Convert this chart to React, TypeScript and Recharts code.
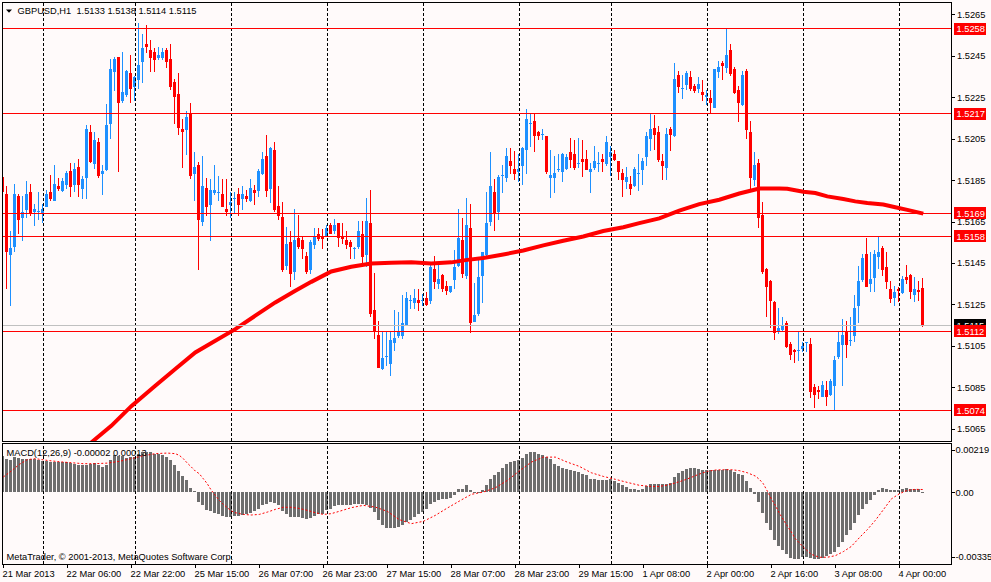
import React from 'react';
import { ComposedChart, Bar, Line, XAxis, YAxis, ReferenceLine } from 'recharts';

const FONT = '"Liberation Sans", Arial, sans-serif';
const FS = 9.3;
const BULL = '#1e90ff';
const BEAR = '#ff0000';
const BG = '#fffafa';
const HIST = '#6e6e6e';
const PT = 0.00001;

// GBPUSD H1 candles, bar 0 = 21 Mar 2013 14:00
const opens = [
  1.51864, 1.51782, 1.51490, 1.51528, 1.51772, 1.51666, 1.51706, 1.51791, 1.51697, 1.51697,
  1.51689, 1.51721, 1.51791, 1.51750, 1.51820, 1.51798, 1.51827, 1.51893, 1.51825, 1.51912,
  1.51806, 1.51859, 1.52081, 1.51926, 1.52032, 1.51878, 1.51899, 1.52121, 1.52371, 1.52442,
  1.52232, 1.52259, 1.52365, 1.52299, 1.52333, 1.52419, 1.52506, 1.52476, 1.52466, 1.52439,
  1.52439, 1.52476, 1.52432, 1.52321, 1.52264, 1.52095, 1.52092, 1.52166, 1.51880, 1.51922,
  1.51649, 1.51811, 1.51730, 1.51788, 1.51788, 1.51782, 1.51710, 1.51730, 1.51758, 1.51782,
  1.51758, 1.51772, 1.51750, 1.51801, 1.51798, 1.51878, 1.51965, 1.51806, 1.51994, 1.51724,
  1.51671, 1.51437, 1.51551, 1.51408, 1.51570, 1.51560, 1.51483, 1.51417, 1.51538, 1.51592,
  1.51573, 1.51578, 1.51632, 1.51602, 1.51642, 1.51578, 1.51560, 1.51551, 1.51518, 1.51525,
  1.51592, 1.51488, 1.51642, 1.51223, 1.51103, 1.50937, 1.50998, 1.50964, 1.51064, 1.51099,
  1.51099, 1.51147, 1.51266, 1.51257, 1.51271, 1.51266, 1.51279, 1.51268, 1.51420, 1.51348,
  1.51392, 1.51339, 1.51308, 1.51369, 1.51437, 1.51562, 1.51388, 1.51621, 1.51167, 1.51205,
  1.51388, 1.51490, 1.51649, 1.51791, 1.51697, 1.51872, 1.51859, 1.51941, 1.51902, 1.51889,
  1.51918, 1.51995, 1.52121, 1.52134, 1.52081, 1.52068, 1.52060, 1.51861, 1.51861, 1.51901,
  1.51889, 1.51902, 1.51984, 1.51975, 1.51928, 1.51952, 1.51952, 1.51889, 1.51909, 1.51930,
  1.51952, 1.51928, 1.51962, 1.51975, 1.51941, 1.51883, 1.51840, 1.51830, 1.51819, 1.51880,
  1.51899, 1.51962, 1.52047, 1.52103, 1.52081, 1.51941, 1.51909, 1.52095, 1.52060, 1.52355,
  1.52289, 1.52307, 1.52346, 1.52304, 1.52288, 1.52273, 1.52252, 1.52246, 1.52198, 1.52370,
  1.52415, 1.52391, 1.52476, 1.52384, 1.52283, 1.52211, 1.52374, 1.52081, 1.51851, 1.51931,
  1.51679, 1.51420, 1.51363, 1.51262, 1.51115, 1.51128, 1.51160, 1.51059, 1.51030, 1.51027,
  1.51035, 1.51066, 1.51059, 1.50852, 1.50838, 1.50805, 1.50838, 1.50813, 1.50858, 1.50998,
  1.51054, 1.51120, 1.51077, 1.51099, 1.51241, 1.51369, 1.51493, 1.51348, 1.51380, 1.51480,
  1.51522, 1.51429, 1.51327, 1.51279, 1.51327, 1.51305, 1.51384, 1.51392, 1.51295, 1.51319,
  1.51330,
];

const highs = [
  1.51975, 1.51822, 1.51604, 1.51830, 1.51782, 1.51774, 1.51843, 1.51830, 1.51734, 1.51791,
  1.51732, 1.51801, 1.51873, 1.51923, 1.51862, 1.51862, 1.51894, 1.51931, 1.51931, 1.51950,
  1.51870, 1.52114, 1.52114, 1.52081, 1.52052, 1.51923, 1.52215, 1.52435, 1.52444, 1.52445,
  1.52466, 1.52378, 1.52452, 1.52352, 1.52606, 1.52553, 1.52596, 1.52524, 1.52487, 1.52493,
  1.52485, 1.52485, 1.52505, 1.52336, 1.52365, 1.52143, 1.52182, 1.52223, 1.51984, 1.51939,
  1.51965, 1.51862, 1.51854, 1.51923, 1.51870, 1.51854, 1.51854, 1.51790, 1.51793, 1.51811,
  1.51820, 1.51801, 1.51854, 1.51824, 1.51902, 1.51984, 1.52069, 1.52007, 1.52032, 1.51820,
  1.51743, 1.51623, 1.51604, 1.51710, 1.51681, 1.51581, 1.51501, 1.51560, 1.51621, 1.51621,
  1.51613, 1.51632, 1.51642, 1.51661, 1.51645, 1.51642, 1.51602, 1.51562, 1.51528, 1.51653,
  1.51653, 1.51763, 1.51801, 1.51401, 1.51172, 1.51115, 1.51123, 1.51123, 1.51223, 1.51212,
  1.51295, 1.51311, 1.51295, 1.51324, 1.51324, 1.51300, 1.51308, 1.51445, 1.51482, 1.51445,
  1.51395, 1.51364, 1.51340, 1.51514, 1.51710, 1.51669, 1.51763, 1.51734, 1.51353, 1.51469,
  1.51504, 1.51793, 1.51984, 1.51854, 1.51873, 1.51922, 1.52003, 1.52003, 1.51992, 1.51975,
  1.52007, 1.52191, 1.52172, 1.52172, 1.52087, 1.52095, 1.52063, 1.51994, 1.51965, 1.51975,
  1.51978, 1.51975, 1.52052, 1.52044, 1.52052, 1.52044, 1.51994, 1.51931, 1.52015, 1.51984,
  1.51975, 1.52063, 1.52015, 1.51994, 1.51944, 1.51902, 1.51912, 1.51870, 1.51912, 1.51975,
  1.51954, 1.52081, 1.52172, 1.52164, 1.52111, 1.51975, 1.52103, 1.52106, 1.52413, 1.52374,
  1.52355, 1.52374, 1.52374, 1.52312, 1.52346, 1.52333, 1.52283, 1.52285, 1.52387, 1.52423,
  1.52424, 1.52585, 1.52505, 1.52395, 1.52304, 1.52376, 1.52384, 1.52134, 1.51984, 1.51950,
  1.51745, 1.51424, 1.51366, 1.51265, 1.51231, 1.51191, 1.51172, 1.51070, 1.51035, 1.51115,
  1.51070, 1.51070, 1.51088, 1.50866, 1.50858, 1.50882, 1.50882, 1.50891, 1.51003, 1.51115,
  1.51180, 1.51172, 1.51191, 1.51298, 1.51437, 1.51493, 1.51571, 1.51504, 1.51512, 1.51578,
  1.51533, 1.51504, 1.51364, 1.51340, 1.51332, 1.51388, 1.51440, 1.51395, 1.51384, 1.51364,
  1.51380,
];

const lows = [
  1.51777, 1.51327, 1.51241, 1.51501, 1.51589, 1.51557, 1.51669, 1.51677, 1.51629, 1.51658,
  1.51641, 1.51718, 1.51750, 1.51747, 1.51798, 1.51790, 1.51806, 1.51769, 1.51790, 1.51769,
  1.51758, 1.51758, 1.51934, 1.51902, 1.51861, 1.51779, 1.51894, 1.52047, 1.52280, 1.51889,
  1.52222, 1.52248, 1.52222, 1.52232, 1.52288, 1.52317, 1.52464, 1.52371, 1.52371, 1.52429,
  1.52429, 1.52389, 1.52283, 1.52122, 1.52069, 1.51909, 1.51971, 1.51854, 1.51750, 1.51417,
  1.51629, 1.51677, 1.51557, 1.51777, 1.51750, 1.51718, 1.51677, 1.51666, 1.51689, 1.51677,
  1.51705, 1.51742, 1.51742, 1.51730, 1.51769, 1.51873, 1.51769, 1.51740, 1.51697, 1.51658,
  1.51408, 1.51417, 1.51335, 1.51369, 1.51517, 1.51469, 1.51396, 1.51396, 1.51517, 1.51557,
  1.51517, 1.51573, 1.51589, 1.51589, 1.51528, 1.51541, 1.51517, 1.51469, 1.51469, 1.51517,
  1.51429, 1.51429, 1.51188, 1.51086, 1.50942, 1.50934, 1.50955, 1.50907, 1.51027, 1.51088,
  1.51083, 1.51144, 1.51228, 1.51228, 1.51220, 1.51241, 1.51244, 1.51252, 1.51324, 1.51327,
  1.51308, 1.51295, 1.51305, 1.51327, 1.51429, 1.51380, 1.51372, 1.51111, 1.51164, 1.51196,
  1.51257, 1.51485, 1.51629, 1.51602, 1.51658, 1.51788, 1.51841, 1.51878, 1.51849, 1.51838,
  1.51827, 1.51878, 1.52010, 1.51983, 1.52042, 1.52042, 1.51878, 1.51761, 1.51788, 1.51889,
  1.51841, 1.51899, 1.51910, 1.51899, 1.51910, 1.51864, 1.51896, 1.51788, 1.51899, 1.51889,
  1.51889, 1.51918, 1.51870, 1.51942, 1.51849, 1.51769, 1.51806, 1.51779, 1.51814, 1.51798,
  1.51827, 1.51918, 1.51991, 1.51994, 1.51938, 1.51849, 1.51849, 1.51991, 1.52056, 1.52268,
  1.52240, 1.52285, 1.52280, 1.52268, 1.52268, 1.52232, 1.52211, 1.52166, 1.52195, 1.52344,
  1.52333, 1.52368, 1.52352, 1.52265, 1.52130, 1.52207, 1.52050, 1.51806, 1.51822, 1.51621,
  1.51396, 1.51188, 1.51139, 1.51078, 1.51107, 1.51115, 1.51040, 1.50984, 1.50966, 1.50979,
  1.51019, 1.51019, 1.50797, 1.50749, 1.50794, 1.50802, 1.50759, 1.50810, 1.50743, 1.50987,
  1.50858, 1.50990, 1.51048, 1.51067, 1.51159, 1.51356, 1.51332, 1.51308, 1.51308, 1.51420,
  1.51388, 1.51324, 1.51257, 1.51241, 1.51260, 1.51302, 1.51348, 1.51276, 1.51260, 1.51268,
  1.51140,
];

const closes = [
  1.51790, 1.51501, 1.51522, 1.51782, 1.51658, 1.51698, 1.51782, 1.51690, 1.51710, 1.51700,
  1.51710, 1.51782, 1.51758, 1.51830, 1.51806, 1.51844, 1.51885, 1.51816, 1.51902, 1.51827,
  1.51854, 1.52095, 1.51938, 1.52044, 1.51870, 1.51893, 1.52114, 1.52384, 1.52432, 1.52222,
  1.52275, 1.52374, 1.52288, 1.52346, 1.52403, 1.52485, 1.52492, 1.52439, 1.52429, 1.52452,
  1.52466, 1.52419, 1.52299, 1.52251, 1.52101, 1.52079, 1.52154, 1.51870, 1.51912, 1.51658,
  1.51820, 1.51721, 1.51801, 1.51801, 1.51791, 1.51721, 1.51697, 1.51743, 1.51763, 1.51730,
  1.51782, 1.51758, 1.51811, 1.51788, 1.51893, 1.51952, 1.51798, 1.52003, 1.51705, 1.51677,
  1.51417, 1.51541, 1.51398, 1.51560, 1.51528, 1.51517, 1.51408, 1.51551, 1.51579, 1.51565,
  1.51565, 1.51621, 1.51592, 1.51632, 1.51570, 1.51565, 1.51538, 1.51528, 1.51522, 1.51604,
  1.51480, 1.51652, 1.51204, 1.51115, 1.50945, 1.50992, 1.51001, 1.51078, 1.51088, 1.51122,
  1.51160, 1.51279, 1.51270, 1.51279, 1.51257, 1.51270, 1.51247, 1.51429, 1.51359, 1.51372,
  1.51327, 1.51316, 1.51339, 1.51429, 1.51570, 1.51396, 1.51632, 1.51160, 1.51199, 1.51382,
  1.51501, 1.51642, 1.51820, 1.51689, 1.51864, 1.51875, 1.51965, 1.51918, 1.51878, 1.51902,
  1.52003, 1.52143, 1.52124, 1.52060, 1.52060, 1.52071, 1.51889, 1.51873, 1.51883, 1.51904,
  1.51975, 1.51962, 1.51947, 1.51909, 1.51931, 1.51938, 1.51899, 1.51902, 1.51942, 1.51933,
  1.51938, 1.52032, 1.51984, 1.51947, 1.51889, 1.51850, 1.51864, 1.51809, 1.51902, 1.51883,
  1.51941, 1.52061, 1.52095, 1.52069, 1.51947, 1.51918, 1.52071, 1.52069, 1.52336, 1.52297,
  1.52293, 1.52365, 1.52288, 1.52280, 1.52312, 1.52259, 1.52262, 1.52220, 1.52384, 1.52397,
  1.52400, 1.52452, 1.52362, 1.52268, 1.52220, 1.52355, 1.52092, 1.51861, 1.51923, 1.51666,
  1.51408, 1.51335, 1.51268, 1.51111, 1.51139, 1.51151, 1.51043, 1.51006, 1.51019, 1.51030,
  1.51048, 1.51069, 1.50826, 1.50813, 1.50826, 1.50862, 1.50805, 1.50882, 1.50982, 1.51070,
  1.51103, 1.51054, 1.51080, 1.51231, 1.51363, 1.51473, 1.51335, 1.51372, 1.51493, 1.51504,
  1.51417, 1.51359, 1.51276, 1.51308, 1.51316, 1.51372, 1.51369, 1.51308, 1.51327, 1.51308,
  1.51150,
];

// Moving average (red thick line), read at these bars
const maBars = [18, 22, 27, 32, 38, 43, 48, 53, 58, 63, 68, 73, 77, 82, 87, 92, 97, 102, 107, 112,
  116, 120, 125, 130, 135, 140, 145, 150, 155, 159, 164, 169, 174, 179, 184, 189, 194, 196, 200, 203,
  206, 210, 213, 216, 220, 223, 226, 230];
const maValues = [1.50515, 1.50585, 1.50665, 1.50760, 1.50858, 1.50939, 1.51019, 1.51075, 1.51131, 1.51196,
  1.51260, 1.51316, 1.51359, 1.51409, 1.51432, 1.51448, 1.51451, 1.51454, 1.51448, 1.51453,
  1.51465, 1.51474, 1.51491, 1.51510, 1.51535, 1.51557, 1.51578, 1.51604, 1.51622, 1.51642,
  1.51665, 1.51702, 1.51734, 1.51755, 1.51785, 1.51809, 1.51809, 1.51808, 1.51793, 1.51787,
  1.51771, 1.51758, 1.51747, 1.51739, 1.51732, 1.51719, 1.51706, 1.51688];

// MACD(12,26,9) main histogram, in points (0.00001)
const macdMainPts = [
  185, 173, 164, 181, 176, 173, 173, 173, 169, 164,
  161, 159, 157, 155, 154, 154, 154, 150, 147, 142,
  142, 142, 143, 150, 142, 130, 138, 168, 190, 187,
  185, 176, 180, 181, 195, 206, 209, 207, 199, 195,
  193, 181, 164, 142, 107, 83, 64, 22, 3, -52,
  -69, -95, -100, -107, -116, -124, -130, -130, -126, -124,
  -119, -116, -109, -100, -86, -69, -64, -50, -57, -69,
  -98, -112, -130, -130, -130, -133, -138, -133, -126, -114,
  -112, -95, -90, -74, -69, -69, -69, -69, -64, -64,
  -64, -69, -81, -104, -147, -173, -187, -187, -187, -181,
  -173, -157, -147, -130, -114, -104, -90, -64, -52, -43,
  -38, -35, -29, -17, 14, 14, 35, 9, -3, -2,
  12, 35, 66, 86, 105, 126, 143, 154, 161, 168,
  178, 195, 206, 206, 199, 190, 181, 169, 147, 133,
  124, 121, 116, 107, 102, 95, 90, 67, 66, 64,
  64, 60, 66, 57, 48, 35, 26, 14, 14, 9,
  14, 29, 43, 43, 43, 40, 40, 47, 78, 98,
  109, 119, 124, 124, 121, 116, 112, 112, 116, 116,
  116, 121, 112, 104, 95, 86, 57, 21, -9, -52,
  -109, -161, -199, -250, -280, -302, -319, -340, -345, -345,
  -337, -337, -342, -347, -345, -340, -333, -319, -311, -285,
  -259, -225, -195, -161, -121, -86, -64, -43, -17, 12,
  21, 17, 12, 9, 12, 17, 22, 17, 17, 16,
  -2,
];

// MACD signal line (red dotted), read at these bars, in points
const sigBars = [0, 2, 4, 6, 8, 11, 14, 17, 20, 23, 26, 29, 32, 35, 38, 41, 43, 44, 45, 46,
  47, 48, 49, 50, 51, 52, 53, 54, 55, 56, 57, 58, 60, 62, 64, 66, 68, 70, 72, 74,
  76, 78, 80, 82, 84, 87, 90, 93, 96, 99, 102, 105, 108, 111, 114, 117, 120, 123, 126, 129,
  132, 135, 138, 141, 144, 147, 150, 153, 156, 159, 162, 164, 166, 168, 170, 172, 174, 176, 178, 180,
  182, 184, 186, 188, 189, 190, 191, 192, 193, 194, 195, 196, 197, 198, 200, 202, 204, 206, 208, 210,
  212, 214, 216, 218, 220, 222, 224, 226, 228, 230];
const sigPts = [78, 109, 143, 168, 173, 164, 157, 152, 147, 147, 150, 159, 173, 188, 199, 202, 199, 190, 173, 150,
  130, 109, 95, 69, 43, 9, -17, -43, -64, -81, -98, -107, -116, -119, -116, -104, -90, -79, -79, -85,
  -95, -107, -116, -112, -100, -81, -69, -78, -100, -143, -164, -152, -121, -83, -47, -12, 0, 22, 60, 109,
  155, 181, 181, 155, 133, 100, 81, 66, 50, 35, 29, 29, 36, 47, 60, 76, 93, 107, 114, 116,
  116, 111, 100, 83, 66, 43, 5, -35, -69, -109, -143, -176, -207, -242, -285, -323, -338, -338, -330, -309,
  -282, -237, -195, -147, -92, -36, -9, 9, 14, 13];

// Horizontal price lines and axis ticks
const levels = [1.5258, 1.5217, 1.5169, 1.5158, 1.5112, 1.5074];
const bidPrice = 1.5115;
const priceTicks = [1.5265, 1.5245, 1.5225, 1.5205, 1.5185, 1.5165, 1.5145, 1.5125, 1.5105, 1.5085, 1.5065];
const macdTicks = [0.00219, 0, -0.00335];
const dayBars = [10, 33, 57, 81, 105, 129, 152, 176, 200, 224];
const timeBars = [0, 16, 32, 48, 64, 80, 96, 112, 128, 144, 160, 176, 192, 208, 224];
const timeLabels = ['21 Mar 2013', '22 Mar 06:00', '22 Mar 22:00', '25 Mar 15:00', '26 Mar 07:00',
  '26 Mar 23:00', '27 Mar 15:00', '28 Mar 07:00', '28 Mar 23:00', '29 Mar 15:00', '1 Apr 08:00',
  '2 Apr 00:00', '2 Apr 16:00', '3 Apr 08:00', '4 Apr 00:00'];

const rows = opens.map((o, i) => ({
  k: i, o, h: highs[i], l: lows[i], c: closes[i], hist: macdMainPts[i] * PT,
  ma: null as number | null, sig: null as number | null,
}));
maBars.forEach((b, j) => { rows[b].ma = maValues[j]; });
sigBars.forEach((b, j) => { rows[b].sig = sigPts[j] * PT; });

const X_DOMAIN: [number, number] = [-0.325, 236.925];

function Candle(props: any) {
  const { x, y, width, height, payload } = props;
  if (!payload || x == null || y == null) return null;
  const cx = Math.floor(x + width / 2);
  const span = payload.h - payload.l;
  const ppu = span > 0 ? height / span : 0;
  const topV = Math.max(payload.o, payload.c);
  const botV = Math.min(payload.o, payload.c);
  const bt = Math.round(y + (payload.h - topV) * ppu);
  const bb = Math.round(y + (payload.h - botV) * ppu);
  const wt = Math.round(y);
  const wb = Math.round(y + height);
  const col = payload.c >= payload.o ? BULL : BEAR;
  return (
    <g shapeRendering="crispEdges">
      <rect x={cx} y={wt} width={1} height={Math.max(1, wb - wt)} fill={col} />
      <rect x={cx - 1} y={bt} width={3} height={Math.max(1, bb - bt)} fill={col} />
    </g>
  );
}

function HistBar(props: any) {
  const { x, y, width, height } = props;
  if (x == null || y == null) return null;
  const cx = Math.floor(x + width / 2);
  const t = Math.round(Math.min(y, y + height));
  const b = Math.round(Math.max(y, y + height));
  return <rect x={cx - 1} y={t} width={3} height={Math.max(1, b - t)} fill={HIST} shapeRendering="crispEdges" />;
}

function PriceTick(props: any) {
  const { y, payload } = props;
  const v = payload.value;
  const isLevel = levels.includes(v);
  const isBid = v === bidPrice;
  const yy = Math.round(y);
  if (isLevel || isBid) {
    return (
      <g>
        <rect x={954} y={yy - 6} width={32} height={12} fill={isBid ? '#000000' : '#ff0000'} shapeRendering="crispEdges" />
        <text x={956.5} y={y + 3.5} fontSize={FS} fontFamily={FONT} fill="#ffffff">{v.toFixed(4)}</text>
      </g>
    );
  }
  return (
    <g>
      <line x1={951} x2={955} y1={yy + 0.5} y2={yy + 0.5} stroke="#000" shapeRendering="crispEdges" />
      <text x={957} y={y + 3.5} fontSize={FS} fontFamily={FONT} fill="#000">{v.toFixed(4)}</text>
    </g>
  );
}

function MacdTick(props: any) {
  const { y, payload } = props;
  const v = payload.value;
  const lab = v === 0 ? '0.00' : v.toFixed(5);
  const yy = Math.round(y);
  return (
    <g>
      <line x1={951} x2={955} y1={yy + 0.5} y2={yy + 0.5} stroke="#000" shapeRendering="crispEdges" />
      <text x={955.5} y={y + 3.5} fontSize={FS} fontFamily={FONT} fill="#000">{lab}</text>
    </g>
  );
}

function TimeTick(props: any) {
  const { x, payload } = props;
  const idx = timeBars.indexOf(payload.value);
  const lab = idx >= 0 ? timeLabels[idx] : '';
  const px = Math.floor(x) + 0.5;
  return (
    <g>
      <line x1={px} x2={px} y1={121} y2={125} stroke="#000" shapeRendering="crispEdges" />
      <text x={Math.floor(x) - 0.5} y={134} fontSize={FS} fontFamily={FONT} fill="#000">{lab}</text>
    </g>
  );
}

export default function App() {
  return (
    <div style={{ position: 'absolute', left: 0, top: 0, width: 991, height: 582, background: BG, overflow: 'hidden' }}>
      <div style={{ position: 'absolute', left: 0, top: 0 }}>
        <ComposedChart width={991} height={443} data={rows} margin={{ top: 2, right: 0, bottom: 2, left: 2 }}>
          <XAxis dataKey="k" type="number" domain={X_DOMAIN} allowDataOverflow hide />
          <YAxis
            orientation="right"
            width={40}
            domain={[1.50592, 1.52708]}
            allowDataOverflow
            ticks={[...priceTicks, bidPrice, ...levels]}
            interval={0}
            tick={<PriceTick />}
            tickLine={false}
            axisLine={false}
          />
          {dayBars.map((d) => (
            <ReferenceLine key={'d' + d} x={d} stroke="#000000" strokeDasharray="3 2" shapeRendering="crispEdges" />
          ))}
          <Bar dataKey={(r: any) => [r.l, r.h]} barSize={3} shape={<Candle />} isAnimationActive={false} />
          <Line dataKey="ma" stroke="#ff0000" strokeWidth={4} dot={false} connectNulls isAnimationActive={false} />
          <ReferenceLine y={bidPrice} stroke="#c0c0c0" shapeRendering="crispEdges" />
          {levels.map((l) => (
            <ReferenceLine key={'l' + l} y={l} stroke="#ff0000" shapeRendering="crispEdges" />
          ))}
        </ComposedChart>
      </div>
      <div style={{ position: 'absolute', left: 0, top: 443 }}>
        <ComposedChart width={991} height={139} data={rows} margin={{ top: 1, right: 0, bottom: 0, left: 2 }}>
          <XAxis
            dataKey="k"
            type="number"
            domain={X_DOMAIN}
            allowDataOverflow
            ticks={timeBars}
            interval={0}
            height={18}
            tick={<TimeTick />}
            tickLine={false}
            axisLine={false}
          />
          <YAxis
            orientation="right"
            width={40}
            domain={[-0.00373, 0.00249]}
            allowDataOverflow
            ticks={macdTicks}
            interval={0}
            tick={<MacdTick />}
            tickLine={false}
            axisLine={false}
          />
          {dayBars.map((d) => (
            <ReferenceLine key={'m' + d} x={d} stroke="#000000" strokeDasharray="3 2" shapeRendering="crispEdges" />
          ))}
          <Bar dataKey="hist" barSize={3} shape={<HistBar />} isAnimationActive={false} />
          <Line dataKey="sig" stroke="#ff0000" strokeWidth={1} strokeDasharray="2 2" dot={false} connectNulls isAnimationActive={false} />
        </ComposedChart>
      </div>
      <svg width={991} height={582} style={{ position: 'absolute', left: 0, top: 0, pointerEvents: 'none' }}>
        <rect x={2.5} y={2.5} width={949} height={439} fill="none" stroke="#000" shapeRendering="crispEdges" />
        <rect x={2.5} y={443.5} width={949} height={121} fill="none" stroke="#000" shapeRendering="crispEdges" />
        <polygon points="6,9.5 12,9.5 9,12.8" fill="#000" />
        <text x={17.5} y={14} fontSize={FS} fontFamily={FONT} fill="#000" style={{ whiteSpace: 'pre' }}>
          {'GBPUSD,H1  1.5133 1.5138 1.5114 1.5115'}
        </text>
        <text x={6.5} y={456} fontSize={FS} fontFamily={FONT} fill="#000" style={{ whiteSpace: 'pre' }}>
          {'MACD(12,26,9) -0.00002 0.00013'}
        </text>
        <text x={6.5} y={559.5} fontSize={FS} fontFamily={FONT} fill="#000">
          {'MetaTrader, © 2001-2013, MetaQuotes Software Corp.'}
        </text>
      </svg>
    </div>
  );
}
